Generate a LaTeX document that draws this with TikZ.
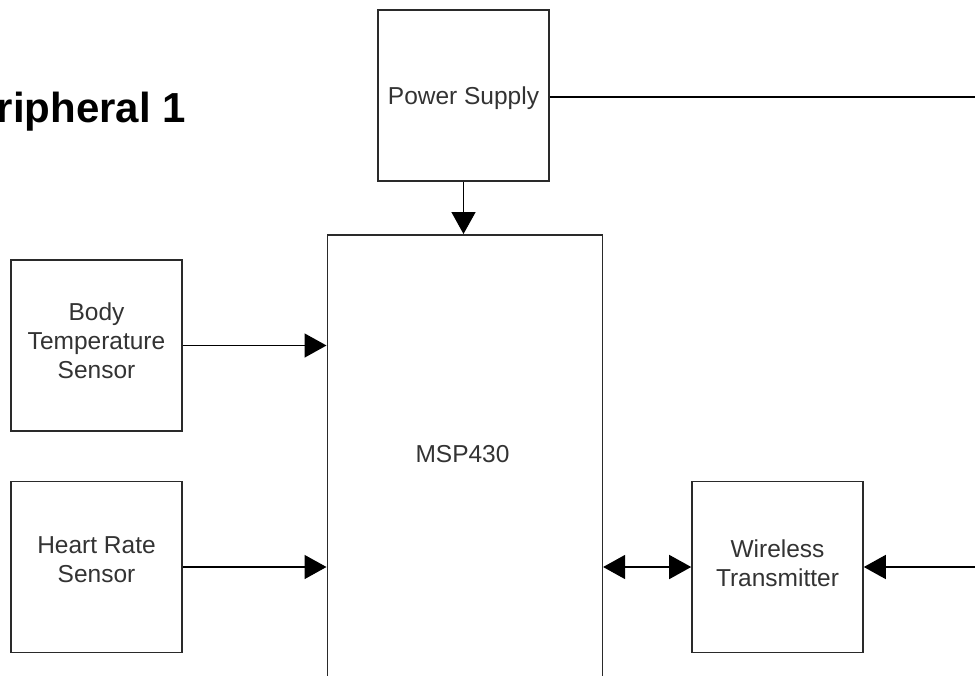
\documentclass[tikz,border=0pt]{standalone}
\usepackage{fontspec}
\setmainfont{Liberation Sans}
\usetikzlibrary{arrows.meta}
\definecolor{txtgray}{HTML}{333333}
\definecolor{boxgray}{HTML}{2A2A2A}
\tikzset{
  blockbox/.style={draw=boxgray, line width=1.6pt, fill=white, minimum width=171pt, minimum height=171pt, inner sep=0pt},
  bigbox/.style={draw=boxgray, line width=1.6pt, fill=white, minimum width=275pt, minimum height=520pt, inner sep=0pt},
  plaintxt/.style={text=txtgray, inner sep=0pt, align=center, font=\fontsize{24.5}{28.8}\selectfont},
  titletxt/.style={inner sep=0pt, font=\fontsize{42}{48}\selectfont\bfseries},
  conn/.style={draw=black, line width=1.5pt},
  arr/.style={conn, -{Triangle[length=22pt,width=24pt]}},
  dblarr/.style={conn, {Triangle[length=22pt,width=24pt]}-{Triangle[length=22pt,width=24pt]}}
}
\begin{document}
\begin{tikzpicture}[x=1pt,y=-1pt]
\useasboundingbox (0,0) rectangle (975,675);
\clip (0,0) rectangle (975,675);
\fill[white] (0,0) rectangle (975,675);

\node[titletxt, anchor=base east] (title) at (186,122) {Peripheral 1};

% boxes
\node[blockbox] (ps) at (463.5,95.5) {};
\node[bigbox, anchor=north west] (msp) at (326.5,234) {};
\node[blockbox] (bt) at (96.5,345.5) {};
\node[blockbox] (hr) at (96.5,567) {};
\node[blockbox] (wt) at (777.5,567) {};

% texts
\node[plaintxt] (pstxt) at (463.5,98) {Power Supply};
\node[plaintxt] (msptxt) at (462.5,454) {MSP430};
\node[plaintxt] (bttxt) at (96.5,340.5) {Body\\Temperature\\Sensor};
\node[plaintxt] (hrtxt) at (96.5,560) {Heart Rate\\Sensor};
\node[plaintxt] (wttxt) at (777.5,563.5) {Wireless\\Transmitter};

\coordinate (pwrout) at (980,97);
\coordinate (wtin) at (980,567);

% connectors
\draw[arr] (ps.south) -- (ps.south |- msp.north);
\draw[conn] (ps.east |- pwrout) -- (pwrout);
\draw[arr] (bt.east) -- (bt.east -| msp.west);
\draw[arr] (hr.east) -- (hr.east -| msp.west);
\draw[dblarr] (wt.west -| msp.east) -- (wt.west);
\draw[arr] (wtin) -- (wt.east);
\end{tikzpicture}
\end{document}
